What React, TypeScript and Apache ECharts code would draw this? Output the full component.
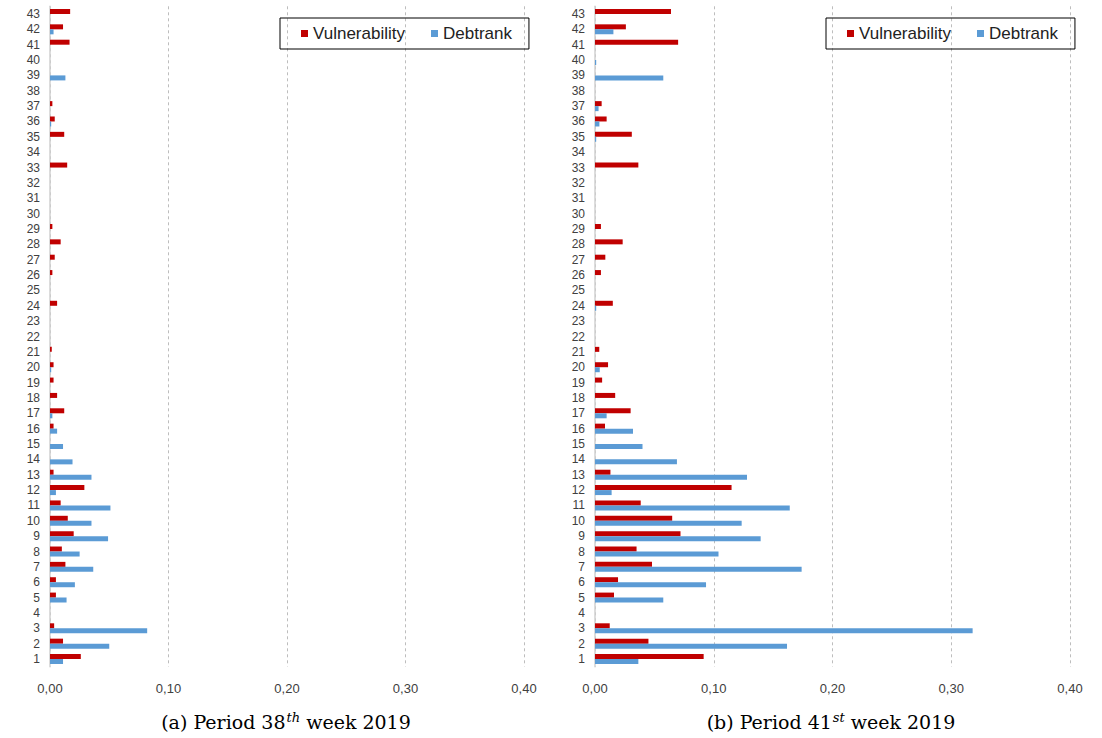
import React, { useEffect, useRef } from "react";
import * as echarts from "echarts";

const categories = Array.from({ length: 43 }, (_, i) => String(i + 1));

// index 0 = category 1 ... index 42 = category 43
const vulnA = [
  0.026, 0.011, 0.0035, 0, 0.005, 0.005, 0.013, 0.010, 0.020, 0.015,
  0.009, 0.029, 0.003, 0, 0, 0.003, 0.012, 0.006, 0.003, 0.003,
  0.0015, 0, 0, 0.006, 0, 0.002, 0.004, 0.009, 0.002, 0,
  0, 0, 0.0145, 0, 0.012, 0.004, 0.002, 0, 0, 0,
  0.0165, 0.011, 0.017,
];
const debtA = [
  0.011, 0.050, 0.082, 0, 0.014, 0.021, 0.0365, 0.025, 0.049, 0.035,
  0.051, 0.005, 0.035, 0.019, 0.011, 0.006, 0.002, 0, 0, 0.001,
  0, 0, 0, 0, 0, 0, 0, 0, 0, 0,
  0, 0, 0, 0, 0, 0.001, 0, 0, 0.013, 0,
  0, 0.003, 0,
];
const vulnB = [
  0.0915, 0.045, 0.0124, 0, 0.016, 0.0194, 0.048, 0.035, 0.072, 0.065,
  0.0385, 0.115, 0.013, 0, 0, 0.0084, 0.030, 0.017, 0.006, 0.011,
  0.0036, 0, 0, 0.015, 0, 0.005, 0.0087, 0.0233, 0.005, 0,
  0, 0, 0.0365, 0, 0.031, 0.0098, 0.0056, 0, 0, 0,
  0.070, 0.026, 0.064,
];
const debtB = [
  0.0365, 0.1617, 0.318, 0, 0.0575, 0.0935, 0.174, 0.104, 0.1395, 0.1235,
  0.164, 0.014, 0.128, 0.069, 0.040, 0.032, 0.0098, 0, 0, 0.004,
  0, 0, 0, 0.001, 0, 0, 0, 0, 0, 0,
  0, 0, 0, 0, 0.001, 0.0037, 0.003, 0, 0.0575, 0.001,
  0, 0.0155, 0,
];

const seriesNames = ["Vulnerability", "Debtrank"];
const RED = "#C00000";
const BLUE = "#5B9BD5";

export default function App() {
  const ref = useRef<HTMLDivElement>(null);
  useEffect(() => {
    if (!ref.current) return;
    const chart = echarts.init(ref.current, null, { renderer: "svg" });
    const gridTop = 6.3;
    const gridH = 660.4;
    const xAxisCommon = (gridIndex: number) => ({
      type: "value",
      gridIndex,
      min: 0,
      max: 0.4,
      interval: 0.1,
      axisLine: { show: false },
      axisTick: { show: false },
      splitLine: { show: true, lineStyle: { color: "#bdbdbd", type: [3, 3], width: 1 } },
      axisLabel: {
        color: "#404040",
        fontSize: 13,
        fontFamily: "Liberation Sans, Arial, sans-serif",
        margin: 15,
        formatter: (v: number) => v.toFixed(2).replace(".", ","),
      },
    });
    const yAxisCommon = (gridIndex: number) => ({
      type: "category",
      gridIndex,
      data: categories,
      axisLine: { show: true, lineStyle: { color: "#d0d0d0", width: 1.5 } },
      axisTick: { show: false },
      axisLabel: {
        color: "#404040",
        fontSize: 12,
        fontFamily: "Liberation Sans, Arial, sans-serif",
        margin: 10,
        interval: 0,
      },
    });
    const barCommon = {
      type: "bar",
      barWidth: 5,
      barGap: "0%",
    };
    const legendCommon = {
      orient: "horizontal",
      icon: "rect",
      itemWidth: 7,
      itemHeight: 7,
      itemGap: 26,
      borderColor: "#000",
      borderWidth: 1,
      padding: [7, 17, 7, 21],
      data: seriesNames,
      textStyle: {
        color: "#222",
        fontSize: 17,
        fontFamily: "Liberation Sans, Arial, sans-serif",
      },
    };
    const serif = "DejaVu Serif, serif";
    const captionRich = {
      a: { fontSize: 19, fontFamily: serif, color: "#222" },
      s: {
        fontSize: 13,
        fontFamily: serif,
        fontStyle: "italic",
        color: "#222",
        verticalAlign: "top",
        padding: [0, 6, 10, 1],
      },
    };
    chart.setOption({
      animation: false,
      backgroundColor: "#fff",
      grid: [
        { left: 50, top: gridTop, width: 474, height: gridH },
        { left: 595, top: gridTop, width: 475, height: gridH },
      ],
      xAxis: [xAxisCommon(0), xAxisCommon(1)],
      yAxis: [yAxisCommon(0), yAxisCommon(1)],
      legend: [
        { ...legendCommon, left: 280, top: 18 },
        { ...legendCommon, left: 826, top: 18 },
      ],
      series: [
        { ...barCommon, name: seriesNames[0], xAxisIndex: 0, yAxisIndex: 0, data: vulnA, itemStyle: { color: RED } },
        { ...barCommon, name: seriesNames[1], xAxisIndex: 0, yAxisIndex: 0, data: debtA, itemStyle: { color: BLUE } },
        { ...barCommon, name: seriesNames[0], xAxisIndex: 1, yAxisIndex: 1, data: vulnB, itemStyle: { color: RED } },
        { ...barCommon, name: seriesNames[1], xAxisIndex: 1, yAxisIndex: 1, data: debtB, itemStyle: { color: BLUE } },
      ],
      graphic: [
        {
          type: "text",
          x: 286,
          y: 722,
          style: {
            text: "{a|(a) Period 38}{s|th}{a|week 2019}",
            rich: captionRich,
            align: "center",
            verticalAlign: "middle",
          },
        },
        {
          type: "text",
          x: 831,
          y: 722,
          style: {
            text: "{a|(b) Period 41}{s|st}{a|week 2019}",
            rich: captionRich,
            align: "center",
            verticalAlign: "middle",
          },
        },
      ],
    });
    return () => chart.dispose();
  }, []);
  return (
    <div
      ref={ref}
      style={{ position: "fixed", left: 0, top: 0, width: 1102, height: 738, background: "#fff" }}
    />
  );
}
